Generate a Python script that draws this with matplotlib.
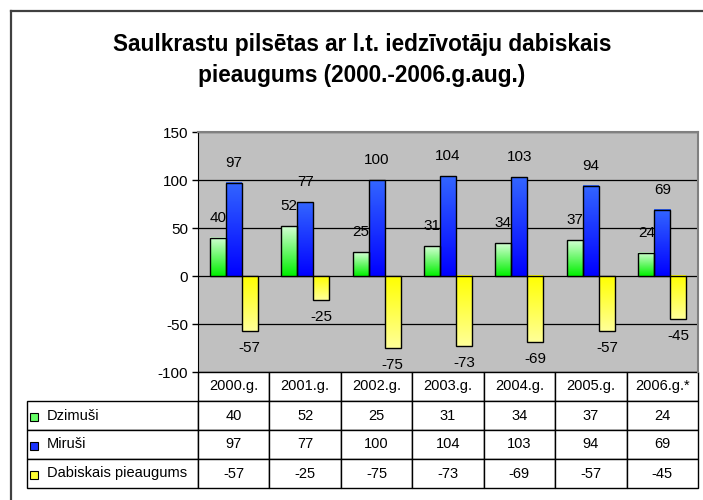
import numpy as np
import matplotlib
matplotlib.use('Agg')
import matplotlib.pyplot as plt
from matplotlib.colors import LinearSegmentedColormap
from matplotlib.lines import Line2D
from matplotlib.patches import Rectangle

plt.rcParams['font.family'] = ['Liberation Sans', 'DejaVu Sans']
plt.rcParams['axes.unicode_minus'] = False

# data
years = ['2000.g.', '2001.g.', '2002.g.', '2003.g.', '2004.g.', '2005.g.', '2006.g.*']
dzimusi = [40, 52, 25, 31, 34, 37, 24]
mirusi = [97, 77, 100, 104, 103, 94, 69]
pieaugums = [-57, -25, -75, -73, -69, -57, -45]
series_names = ['Dzimuši', 'Miruši', 'Dabiskais pieaugums']
title = 'Saulkrastu pilsētas ar l.t. iedzīvotāju dabiskais\npieaugums (2000.-2006.g.aug.)'

# (top colour, bottom colour) of each gradient, swatch colour
styles = [
    ('#d4ffd4', '#00f000', '#66ff66'),
    ('#3366ff', '#0000ff', '#1a33ff'),
    ('#ffff00', '#ffff99', '#ffff33'),
]

W, H = 703, 500
fig = plt.figure(figsize=(W / 100, H / 100), dpi=100)
fig.patch.set_facecolor('white')

# axes box in pixels: left 198, right 698, top 132, bottom 372
ax = fig.add_axes([198 / W, 1 - 372 / H, 500 / W, 240 / H])
ax.set_facecolor('#c0c0c0')

x = np.arange(len(years))
bw = 0.224
all_series = [dzimusi, mirusi, pieaugums]
grad = np.linspace(0, 1, 256).reshape(-1, 1)

for i, vals in enumerate(all_series):
    top_c, bot_c, _ = styles[i]
    cmap = LinearSegmentedColormap.from_list('g%d' % i, [top_c, bot_c])
    bars = ax.bar(x + (i - 1) * bw, vals, bw, facecolor='none',
                  edgecolor='black', linewidth=1, zorder=3)
    for rect, v in zip(bars, vals):
        x0, y0 = rect.get_x(), rect.get_y()
        w, h = rect.get_width(), rect.get_height()
        lo, hi = min(y0, y0 + h), max(y0, y0 + h)
        ax.imshow(grad, extent=[x0, x0 + w, lo, hi], aspect='auto',
                  cmap=cmap, origin='upper', zorder=2, interpolation='bilinear')
        off = 20 if v >= 0 else -17
        ax.annotate(str(v), (x0 + w / 2, v), xytext=(0, off),
                    textcoords='offset pixels', ha='center', va='center',
                    fontsize=11, zorder=4)

ax.set_xlim(-0.5, len(years) - 0.5)
ax.set_ylim(-100, 150)
ax.set_yticks([-100, -50, 0, 50, 100, 150])
ax.set_xticks([])
ax.yaxis.grid(True, color='black', linewidth=0.9)
ax.set_axisbelow(True)
ax.tick_params(axis='y', direction='out', length=4, width=1, labelsize=11, pad=3)
ax.spines['left'].set_color('black')
for s in ['top', 'right']:
    ax.spines[s].set_color('#808080')
    ax.spines[s].set_linewidth(1.5)
ax.spines['bottom'].set_visible(False)

# data table under the axes, first column holds the series names
lab_w = 171 / 500
cell_text = [[n] + [str(v) for v in vals]
             for n, vals in zip(series_names, all_series)]
tbl = ax.table(cellText=cell_text, colLabels=[''] + years,
               colWidths=[lab_w] + [1 / 7] * 7, cellLoc='center',
               bbox=[-lab_w, -116 / 240, 1 + lab_w, 116 / 240])
tbl.auto_set_font_size(False)
tbl.set_fontsize(10.5)
for (r, c), cell in tbl.get_celld().items():
    cell.set_edgecolor('black')
    cell.set_linewidth(1)
    if c == 0:
        cell._loc = 'left'
        cell.PAD = 20 / 171
        cell.get_text().set_horizontalalignment('left')
tbl[0, 0].set_visible(False)

# legend swatches inside the row labels
row_y = [417, 446, 475]
for (_, _, sw), yy in zip(styles, row_y):
    fig.add_artist(Rectangle((30 / W, 1 - (yy + 4) / H), 8 / W, 8 / H,
                             transform=fig.transFigure, facecolor=sw,
                             edgecolor='black', linewidth=0.8))

# outer chart border (only left and top visible)
fig.add_artist(Line2D([11 / W, 11 / W], [0, 1 - 11 / H], transform=fig.transFigure,
                      color='#404040', linewidth=1.6))
fig.add_artist(Line2D([11 / W, 1], [1 - 11 / H, 1 - 11 / H], transform=fig.transFigure,
                      color='#404040', linewidth=1.6))

fig.text(362 / W, 1 - 60 / H, title, ha='center', va='center',
         fontsize=16.3, fontweight='bold', linespacing=1.42)

fig.savefig('out.png', dpi=100)
